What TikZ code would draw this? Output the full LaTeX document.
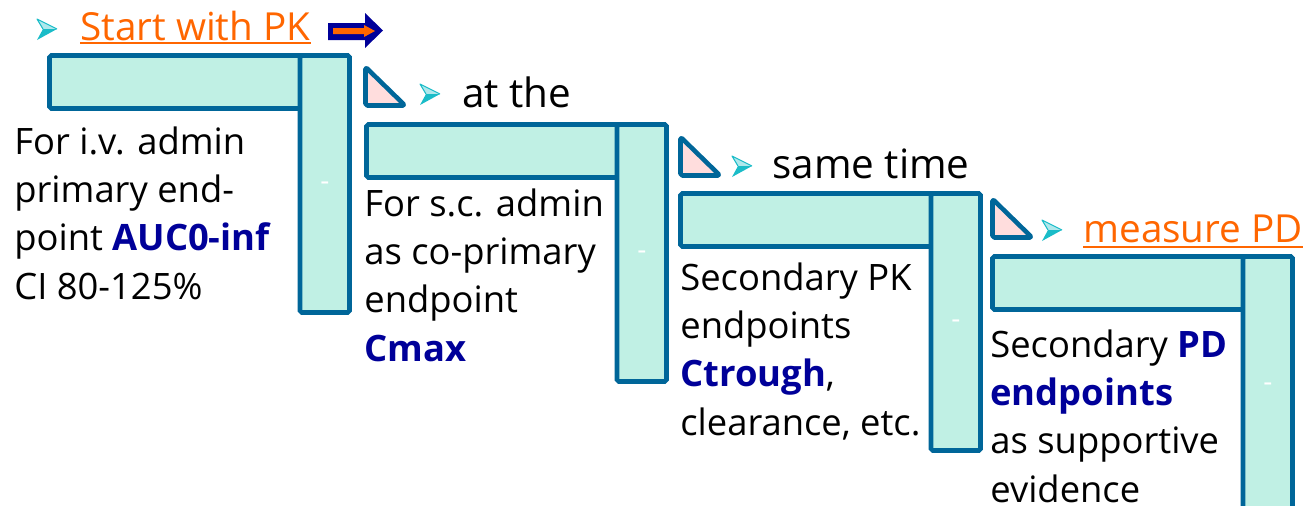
\documentclass[tikz,border=0pt]{standalone}
\usepackage{fontspec}
\setmainfont{Open Sans}
\usepackage{xcolor}
\usetikzlibrary{positioning}

\definecolor{barline}{HTML}{006699}
\definecolor{barfill}{HTML}{C0F0E4}
\definecolor{wedgefill}{HTML}{FFDDDD}
\definecolor{linkorange}{HTML}{FF6600}
\definecolor{keyblue}{HTML}{000099}
\definecolor{bulletcyan}{HTML}{1ABCC8}

\newcommand{\bodyfont}{\fontsize{20.7}{27.5}\selectfont}
\newcommand{\keyterm}[1]{\textcolor{keyblue}{\textbf{#1}}}

\begin{document}
\begin{tikzpicture}[x=0.02cm, y=-0.02cm,
    bar/.style={draw=barline, fill=barfill, line width=2.6pt, rounded corners=1pt},
    wedge/.style={draw=barline, fill=wedgefill, line width=2.6pt, rounded corners=1pt, line join=round},
    body/.style={anchor=base west, align=left, inner sep=0pt, font=\bodyfont},
    heading/.style={anchor=base west, inner sep=0pt, font=\fontsize{23}{27}\selectfont},
    link/.style={heading, text=linkorange, font=\fontsize{22}{27}\selectfont},
    underlined/.style={draw=linkorange, line width=1.2pt},
    tick/.style={text=white, inner sep=0pt, font=\fontsize{16}{18}\selectfont},
    bulletmark/.pic={
      \fill[bulletcyan!35] (10,0) -- (-10,-10) -- (-4,0) -- cycle;
      \draw[bulletcyan, line width=0.6pt, line join=round] (10,0) -- (-10,-10) -- (-4,0);
      \fill[bulletcyan] (10,0) -- (-4,0) -- (-10,11) -- cycle;
    }
]
\useasboundingbox (0,0) rectangle (1307,505);
\clip (0,0) rectangle (1307,505);

% stair steps
\foreach \x/\y [count=\i] in {47/53, 364/122, 678/191, 990/254} {
  \draw[bar] (\x+2.5,\y+2.5) rectangle (\x+302.5,\y+55.5);
  \draw[bar] (\x+253,\y+2.5) rectangle (\x+302.5,\y+259.5);
  \node[tick] (tick\i) at (\x+278,\y+133) {-};
}

% wedges between the steps
\foreach \x/\y in {363/64, 678/134, 990/196} {
  \draw[wedge] (\x+2.5,\y+3) -- (\x+2.5,\y+41.5) -- (\x+42,\y+41.5) -- cycle;
}

\pic at (47,29) {bulletmark};
\pic at (430,94) {bulletmark};
\pic at (742,166) {bulletmark};
\pic at (1052,230) {bulletmark};

\node[link] (startpk) at (80,40) {Start with PK};
\draw[underlined] ([yshift=-0.06cm]startpk.base west) -- ([yshift=-0.06cm]startpk.base east);

% block arrow
\fill[keyblue] (328,23) -- (365,23) -- (365,13) -- (383,30.5) -- (365,48) -- (365,40) -- (328,40) -- cycle;
\fill[linkorange] (333,28) -- (364,28) -- (364,25) -- (375,31) -- (364,37) -- (364,34) -- (333,34) -- cycle;

\node[heading] (atthe) at (462,107) {at the};
\node[heading] (sametime) at (772,178) {same time};
\node[link] (measurepd) at (1083,242) {measure PD};
\draw[underlined] ([yshift=-0.1cm]measurepd.base west) -- ([yshift=-0.1cm]measurepd.base east);

% base = last line
\node[body] (ivadmin) at (14,299) {For i.v. admin\\primary end-\\point \keyterm{AUC0-inf}\\CI 80-125\%};
\node[body] (scadmin) at (364,361) {For s.c. admin\\as co-primary\\endpoint\\\keyterm{Cmax}};
\node[body] (secpk) at (680,435) {Secondary PK\\endpoints\\\keyterm{Ctrough},\\clearance, etc.};
\node[body] (secpd) at (990,502) {Secondary \keyterm{PD}\\\keyterm{endpoints}\\as supportive\\evidence};

\end{tikzpicture}
\end{document}
